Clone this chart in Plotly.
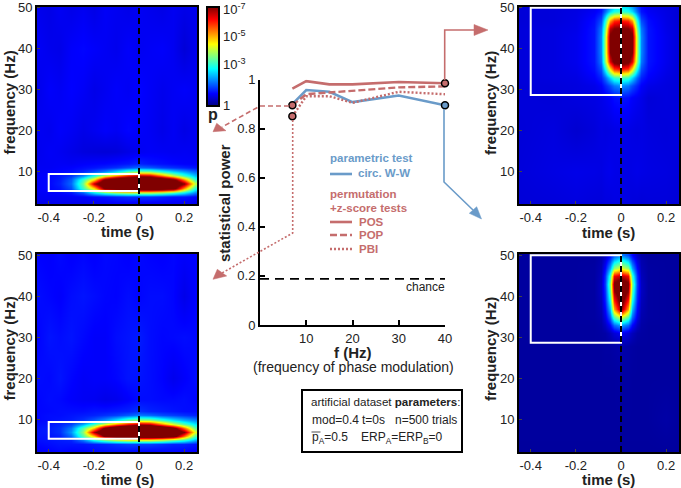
import plotly.graph_objects as go

W, H = 681, 488
RED = '#c56d6d'
BLUE = '#6a9bc9'
DARK = '#222222'
FONT = 'Liberation Sans'

# statistical power panel
freq_mod = [7, 10, 15, 20, 30, 40]
power_pos = [0.963, 0.993, 0.98, 0.98, 0.99, 0.985]
power_pop = [0.895, 0.94, 0.947, 0.953, 0.968, 0.972]
power_pbi = [0.85, 0.932, 0.932, 0.905, 0.95, 0.94]
power_ww = [0.90, 0.957, 0.95, 0.908, 0.935, 0.895]
chance_x = [0, 40]
chance_y = [0.188, 0.188]
marker_x = [7, 7, 40]
marker_y = [0.895, 0.85, 0.985]

# maps: -log10(p)
t_low = [-0.45, -0.4, -0.35, -0.3, -0.25, -0.2, -0.15, -0.1, -0.05, 0, 0.05, 0.1, 0.15, 0.2, 0.25]
f_low = [2, 4, 5, 6, 7, 8, 9, 10, 11, 12, 15, 20, 30, 40, 50]
z_top_left = [
    [.70, .72, .75, .72, .70, .72, .75, .78, .75, .72, .70, .72, .75, .72, .70],
    [.80, .80, .80, .82, .85, .95, 1.0, 1.1, 1.2, 1.2, 1.2, 1.1, 1.0, 1.0, .90],
    [.80, .85, .90, 1.0, 1.5, 2.5, 3.2, 3.7, 4.0, 4.0, 4.0, 3.7, 3.2, 2.6, 1.8],
    [.85, .90, 1.0, 1.4, 3.0, 4.5, 7.2, 8.0, 8.2, 8.2, 8.2, 8.0, 7.5, 5.0, 2.8],
    [.85, .90, 1.1, 1.6, 3.4, 6.6, 8.5, 9.0, 9.0, 9.0, 9.0, 9.0, 8.5, 7.0, 4.0],
    [.85, .90, 1.05, 1.5, 3.0, 4.6, 7.4, 8.5, 9.0, 9.0, 9.0, 8.5, 7.5, 5.2, 3.0],
    [.85, .90, 1.0, 1.2, 1.8, 2.8, 4.0, 5.0, 6.0, 6.6, 6.4, 5.2, 4.0, 3.0, 2.2],
    [.80, .85, .90, .95, 1.1, 1.4, 1.8, 2.4, 3.2, 3.6, 3.5, 2.9, 2.4, 2.0, 1.6],
    [.80, .80, .85, .88, .95, 1.0, 1.1, 1.2, 1.4, 1.6, 1.5, 1.3, 1.2, 1.1, 1.0],
    [.78, .80, .82, .80, .85, .88, .90, .95, 1.0, 1.1, 1.0, .95, .90, .85, .85],
    [.75, .82, .78, .72, .65, .62, .60, .62, .70, .78, .82, .80, .78, .80, .78],
    [.80, .76, .85, .80, .72, .78, .85, .80, .90, .85, .80, .72, .80, .70, .78],
    [.72, .85, .80, .88, .82, .72, .78, .85, .80, .90, .82, .75, .80, .85, .80],
    [.82, .75, .72, .85, .90, .85, .80, .75, .85, .78, .82, .85, .78, .60, .75],
    [.75, .70, .80, .72, .78, .70, .82, .78, .72, .80, .75, .70, .78, .72, .75],
]
z_bot_left = [
    [.80, .85, .90, .85, .88, .92, .95, .95, .90, .88, .85, .88, .90, .85, .82],
    [.90, .95, 1.0, 1.0, 1.0, 1.05, 1.1, 1.2, 1.3, 1.3, 1.3, 1.2, 1.1, 1.1, 1.0],
    [.95, 1.0, 1.05, 1.1, 1.7, 2.7, 3.4, 3.9, 4.2, 4.2, 4.2, 3.9, 3.4, 2.9, 2.1],
    [1.0, 1.0, 1.1, 1.6, 3.2, 4.8, 7.3, 8.0, 8.2, 8.2, 8.2, 8.0, 7.6, 5.4, 3.2],
    [1.0, 1.05, 1.2, 1.9, 3.6, 6.7, 8.5, 9.0, 9.0, 9.0, 9.0, 9.0, 8.5, 7.0, 4.2],
    [1.0, 1.05, 1.2, 1.7, 3.2, 4.8, 7.4, 8.5, 9.0, 9.0, 9.0, 8.5, 7.5, 5.4, 3.3],
    [.95, 1.0, 1.1, 1.3, 2.0, 3.0, 4.1, 5.1, 6.0, 6.6, 6.4, 5.2, 4.1, 3.2, 2.5],
    [.90, .95, 1.0, 1.05, 1.2, 1.5, 1.9, 2.5, 3.3, 3.7, 3.6, 3.0, 2.5, 2.1, 1.8],
    [.90, .95, .95, 1.0, 1.05, 1.1, 1.2, 1.3, 1.5, 1.7, 1.6, 1.4, 1.3, 1.2, 1.1],
    [.90, .92, .95, .95, .95, 1.0, 1.0, 1.05, 1.1, 1.2, 1.1, 1.05, 1.0, .95, .95],
    [.90, .95, .92, .85, .80, .78, .72, .75, .85, .95, .95, .92, .92, .95, .90],
    [.95, .92, 1.0, .90, .82, .85, .85, .90, 1.0, 1.0, .95, .88, .75, .85, .95],
    [.88, 1.0, .95, 1.0, .92, .85, .85, .95, 1.0, 1.05, .95, .90, .92, .95, .92],
    [.95, .90, .85, .95, 1.0, .95, .90, .88, .95, .90, .95, .95, .90, .72, .88],
    [.88, .85, .92, .85, .90, .85, .92, .90, .85, .92, .88, .85, .90, .85, .88],
]

t_high = [-0.45, -0.3, -0.2, -0.12, -0.09, -0.07, -0.05, -0.03, 0, 0.03, 0.05, 0.07, 0.09, 0.12, 0.2, 0.25]
f_high = [2, 10, 20, 28, 31, 33, 35, 37, 39, 41, 43, 45, 47, 49, 50]
z_top_right = [
    [.60, .62, .65, .62, .62, .65, .65, .68, .68, .65, .62, .62, .60, .62, .62, .60],
    [.62, .68, .72, .70, .68, .72, .75, .72, .70, .68, .70, .72, .70, .68, .66, .62],
    [.60, .65, .55, .62, .68, .66, .68, .70, .72, .70, .68, .66, .68, .65, .62, .65],
    [.62, .60, .65, .68, .72, .78, .85, .95, 1.0, .95, .85, .78, .72, .60, .65, .62],
    [.60, .62, .65, .72, .85, 1.1, 1.4, 1.7, 1.9, 1.7, 1.4, 1.1, .85, .72, .65, .62],
    [.62, .65, .68, .85, 1.1, 1.6, 2.4, 3.0, 3.2, 3.0, 2.4, 1.6, 1.1, .85, .68, .62],
    [.62, .65, .72, .95, 1.4, 2.6, 4.4, 5.6, 5.9, 5.6, 4.4, 2.6, 1.4, .95, .72, .62],
    [.62, .65, .75, 1.0, 1.7, 3.6, 6.3, 7.3, 7.6, 7.3, 6.3, 3.6, 1.7, 1.0, .75, .62],
    [.62, .65, .75, 1.0, 1.8, 3.8, 7.0, 7.6, 7.9, 7.6, 7.0, 3.8, 1.8, 1.0, .75, .62],
    [.62, .65, .75, 1.0, 1.8, 3.8, 7.2, 7.7, 8.0, 7.7, 7.2, 3.8, 1.8, 1.0, .75, .62],
    [.62, .65, .75, 1.0, 1.8, 3.8, 7.2, 7.4, 7.5, 7.4, 7.2, 3.8, 1.8, 1.0, .75, .62],
    [.62, .65, .72, 1.0, 1.7, 3.4, 6.6, 7.0, 7.1, 7.0, 6.6, 3.4, 1.7, 1.0, .72, .62],
    [.60, .62, .70, .95, 1.4, 2.8, 5.0, 5.8, 6.0, 5.8, 5.0, 2.8, 1.4, .95, .70, .60],
    [.60, .62, .68, .82, 1.0, 1.6, 2.4, 2.8, 3.0, 2.8, 2.4, 1.6, 1.0, .82, .68, .60],
    [.60, .62, .66, .78, .95, 1.4, 2.0, 2.4, 2.6, 2.4, 2.0, 1.4, .95, .78, .66, .60],
]
z_bot_right = [
    [.18, .18, .18, .18, .18, .18, .18, .18, .18, .18, .18, .18, .18, .18, .18, .18],
    [.20, .20, .20, .20, .20, .20, .20, .20, .20, .20, .20, .20, .20, .20, .25, .20],
    [.20, .20, .20, .20, .20, .20, .20, .20, .22, .22, .20, .20, .20, .20, .20, .20],
    [.20, .20, .20, .20, .20, .22, .22, .25, .30, .25, .22, .20, .20, .20, .20, .20],
    [.20, .20, .20, .20, .22, .25, .40, .60, .80, .60, .40, .25, .22, .20, .20, .20],
    [.20, .20, .20, .20, .25, .45, .90, 1.6, 2.0, 1.6, .90, .45, .25, .20, .20, .20],
    [.20, .20, .20, .22, .30, .70, 1.6, 3.2, 4.2, 3.2, 1.6, .70, .30, .22, .20, .20],
    [.20, .20, .20, .22, .35, .90, 2.2, 5.0, 7.0, 5.0, 2.2, .90, .35, .22, .20, .20],
    [.20, .20, .20, .22, .40, 1.1, 2.8, 6.0, 7.6, 6.0, 2.8, 1.1, .40, .22, .20, .20],
    [.20, .20, .20, .22, .45, 1.2, 3.2, 6.8, 7.8, 6.8, 3.2, 1.2, .45, .22, .20, .20],
    [.20, .20, .20, .22, .45, 1.3, 3.5, 7.2, 7.8, 7.2, 3.5, 1.3, .45, .22, .20, .20],
    [.20, .20, .20, .22, .40, 1.2, 3.0, 6.2, 6.6, 6.2, 3.0, 1.2, .40, .22, .20, .20],
    [.20, .20, .20, .22, .35, .90, 2.0, 3.6, 4.2, 3.6, 2.0, .90, .35, .22, .20, .20],
    [.20, .20, .20, .20, .30, .60, 1.2, 2.0, 2.6, 2.0, 1.2, .60, .30, .20, .20, .20],
    [.20, .20, .20, .20, .25, .45, .90, 1.4, 1.8, 1.4, .90, .45, .25, .20, .20, .20],
]

time_ticks = [-0.4, -0.2, 0, 0.2]
time_labels = ['-0.4', '-0.2', '0', '0.2']
freq_ticks = [10, 20, 30, 40, 50]
power_ticks = [0, 0.2, 0.4, 0.6, 0.8, 1]
power_labels = ['0', '0.2', '0.4', '0.6', '0.8', '1']
mod_ticks = [10, 20, 30, 40]

jet = [[0, '#000083'], [0.125, '#0000ff'], [0.375, '#00ffff'],
       [0.625, '#ffff00'], [0.875, '#ff0000'], [1, '#800000']]


def px(x):
    return x / W


def py(y):
    return 1 - y / H


def path(points, close=False):
    d = 'M ' + ' L '.join(f'{px(x):.5f} {py(y):.5f}' for x, y in points)
    return d + (' Z' if close else '')


def route(points, color, dash='solid', width=1.6):
    return dict(type='path', xref='paper', yref='paper', path=path(points),
                line=dict(color=color, width=width, dash=dash))


def head(points, color):
    return dict(type='path', xref='paper', yref='paper', path=path(points, True),
                fillcolor=color, line=dict(color=color, width=0.5))


def label(x, y, text, color=DARK, size=12, anchor='left', angle=0):
    return dict(xref='paper', yref='paper', x=px(x), y=py(y), text=text, showarrow=False,
                xanchor=anchor, yanchor='middle', textangle=angle, borderpad=0,
                font=dict(family=FONT, size=size, color=color))


fig = go.Figure()

# axes number, map data, frame in pixels (left, right, top, bottom)
panels = [
    ('', t_low, f_low, z_top_left, (37, 197, 6.5, 204)),
    ('2', t_low, f_low, z_bot_left, (37, 197, 254, 452)),
    ('3', t_high, f_high, z_top_right, (519, 679, 6.5, 204)),
    ('4', t_high, f_high, z_bot_right, (519, 679, 254, 452)),
]

shapes = []
for n, t, f, z, (left, right, top, bottom) in panels:
    fig.add_trace(go.Heatmap(x=t, y=f, z=z, coloraxis='coloraxis', zsmooth='best',
                             xaxis='x' + n, yaxis='y' + n, hoverinfo='skip'))
    fig.update_layout({
        'xaxis' + n: dict(domain=[px(left), px(right)], range=[-0.452, 0.257], anchor='y' + n,
                          automargin=False,
                          tickvals=time_ticks, ticktext=time_labels, ticks='inside', ticklen=3,
                          showline=True, mirror=True, linecolor='black', linewidth=2, showgrid=False,
                          zeroline=False, tickfont=dict(family=FONT, size=13, color=DARK)),
        'yaxis' + n: dict(domain=[py(bottom), py(top)], range=[2.1, 50.3], anchor='x' + n,
                          automargin=False,
                          tickvals=freq_ticks, ticks='inside', ticklen=3,
                          showline=True, mirror=True, linecolor='black', linewidth=2, showgrid=False,
                          zeroline=False, tickfont=dict(family=FONT, size=13, color=DARK)),
    })
    xr, yr = 'x' + n, 'y' + n
    if n in ('', '2'):
        box = dict(x0=-0.4, x1=0, y0=5.3, y1=9.4)
    else:
        box = dict(x0=-0.4, x1=0, y0=28.7, y1=50)
    shapes.append(dict(type='rect', xref=xr, yref=yr, line=dict(color='white', width=2), **box))
    shapes.append(dict(type='line', xref=xr, yref=yr, x0=0, x1=0, y0=2.1, y1=50.3,
                       line=dict(color='black', width=2, dash='6px,4px')))

fig.add_trace(go.Scatter(x=chance_x, y=chance_y, mode='lines', xaxis='x5', yaxis='y5',
                         line=dict(color='black', width=1.6, dash='9px,6px')))
fig.add_trace(go.Scatter(x=freq_mod, y=power_ww, mode='lines', xaxis='x5', yaxis='y5',
                         line=dict(color=BLUE, width=2.6)))
fig.add_trace(go.Scatter(x=freq_mod, y=power_pbi, mode='lines', xaxis='x5', yaxis='y5',
                         line=dict(color=RED, width=2.4, dash='2px,2px')))
fig.add_trace(go.Scatter(x=freq_mod, y=power_pop, mode='lines', xaxis='x5', yaxis='y5',
                         line=dict(color=RED, width=2.4, dash='7px,3px')))
fig.add_trace(go.Scatter(x=freq_mod, y=power_pos, mode='lines', xaxis='x5', yaxis='y5',
                         line=dict(color=RED, width=2.6)))
fig.add_trace(go.Scatter(x=marker_x, y=marker_y, mode='markers', xaxis='x5', yaxis='y5', cliponaxis=False,
                         marker=dict(size=7, color=RED, line=dict(color='black', width=1.5))))
fig.add_trace(go.Scatter(x=freq_mod[-1:], y=power_ww[-1:], mode='markers', xaxis='x5', yaxis='y5', cliponaxis=False,
                         marker=dict(size=7, color=BLUE, line=dict(color='black', width=1.5))))

# arrows from the power panel out to the maps
shapes += [
    route([(444.7, 80), (444.7, 30), (476, 30)], RED),
    head([(488, 30), (474, 24.5), (474, 35.5)], RED),
    route([(444, 109), (444, 182), (473, 210)], BLUE),
    head([(481.5, 219), (469.3, 213.3), (476.7, 206.7)], BLUE),
    route([(289, 106), (260, 106), (222, 127)], RED, dash='5px,3px'),
    head([(213, 131.7), (216.7, 123.3), (226, 130.7)], RED),
    route([(292.7, 120), (292.7, 233), (222, 273)], RED, dash='2px,2px'),
    head([(213, 279.3), (217.3, 269.3), (226.7, 276)], RED),
    # legend samples
    route([(330, 174), (352, 174)], BLUE, width=2.6),
    route([(330, 222), (352, 222)], RED, width=2.6),
    route([(330, 235), (352, 235)], RED, dash='7px,3px', width=2.4),
    route([(330, 249), (352, 249)], RED, dash='2px,2px', width=2.4),
    # parameters box and the bar over p
    dict(type='rect', xref='paper', yref='paper', x0=px(302), x1=px(462), y0=py(452), y1=py(390),
         line=dict(color='black', width=2)),
    route([(311.5, 432), (320.5, 432)], DARK, width=0.8),
]

annotations = [
    label(127, 231, '<b>time (s)</b>', size=15, anchor='center'),
    label(127, 479, '<b>time (s)</b>', size=15, anchor='center'),
    label(608, 232, '<b>time (s)</b>', size=15, anchor='center'),
    label(608, 479, '<b>time (s)</b>', size=15, anchor='center'),
    label(8.5, 103, '<b>frequency (Hz)</b>', size=15, anchor='center', angle=-90),
    label(8.5, 349, '<b>frequency (Hz)</b>', size=15, anchor='center', angle=-90),
    label(490, 103, '<b>frequency (Hz)</b>', size=15, anchor='center', angle=-90),
    label(490, 349, '<b>frequency (Hz)</b>', size=15, anchor='center', angle=-90),
    label(225, 203, '<b>statistical power</b>', size=15, anchor='center', angle=-90),
    label(353, 352, '<b>f (Hz)</b>', size=15, anchor='center'),
    label(222, 9, '10<sup>-7</sup>', size=13),
    label(222, 36, '10<sup>-5</sup>', size=13),
    label(222, 64, '10<sup>-3</sup>', size=13),
    label(222, 106, '1', size=13),
    label(213, 115, '<b>p</b>', size=16, anchor='center'),
    label(329, 158, '<b>parametric test</b>', BLUE, size=11.5),
    label(357, 173, '<b>circ. W-W</b>', BLUE, size=11.5),
    label(329, 194, '<b>permutation</b>', RED, size=11.5),
    label(329, 208, '<b>+z-score tests</b>', RED, size=11.5),
    label(358, 222, '<b>POS</b>', RED, size=11.5),
    label(358, 235, '<b>POP</b>', RED, size=11.5),
    label(358, 249, '<b>PBI</b>', RED, size=11.5),
    label(405, 287, 'chance', size=12),
    label(353, 367, '(frequency of phase modulation)', size=14, anchor='center'),
    label(310, 401, 'artificial dataset <b>parameters</b>:', size=11.6),
    label(311, 420, 'mod=0.4', size=12),
    label(361, 420, 't=0s', size=12),
    label(394, 420, 'n=500 trials', size=12),
    label(311, 438, 'p<sub>A</sub>=0.5', size=12),
    label(360, 438, 'ERP<sub>A</sub>=ERP<sub>B</sub>=0', size=12),
]

fig.update_layout(
    width=W, height=H,
    margin=dict(l=0, r=0, t=0, b=0),
    paper_bgcolor='white', plot_bgcolor='white',
    showlegend=False,
    shapes=shapes,
    annotations=annotations,
    coloraxis=dict(
        colorscale=jet, cmin=0, cmax=7,
        colorbar=dict(
            x=px(207), xanchor='left', y=py(106), yanchor='bottom',
            thicknessmode='pixels', thickness=12, lenmode='pixels', len=99,
            xpad=0, ypad=0, outlinewidth=2, outlinecolor='black',
            showticklabels=False, ticks='',
        ),
    ),
    xaxis5=dict(domain=[px(260), px(445)], range=[0, 40], anchor='y5', automargin=False,
                tickvals=mod_ticks, ticks='inside', ticklen=5, tickwidth=1.5, tickcolor='black',
                showline=True, linecolor='black', linewidth=2, showgrid=False, zeroline=False,
                tickfont=dict(family=FONT, size=13, color=DARK)),
    yaxis5=dict(domain=[py(325), py(79.5)], range=[0, 1], anchor='x5', automargin=False,
                tickvals=power_ticks, ticktext=power_labels, ticks='inside', ticklen=5,
                tickwidth=1.5, tickcolor='black',
                showline=True, linecolor='black', linewidth=2, showgrid=False, zeroline=False,
                tickfont=dict(family=FONT, size=13, color=DARK)),
)

fig.write_html("out.html", config=dict(displayModeBar=False),
               post_script="document.body.style.margin='0';")
